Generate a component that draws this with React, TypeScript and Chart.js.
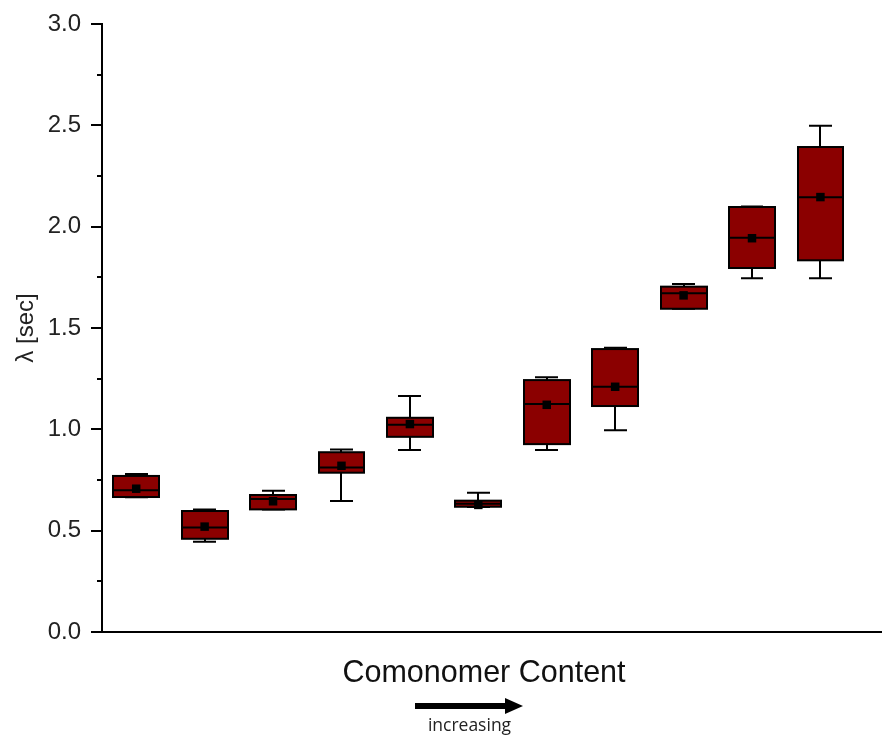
import React, { useEffect, useRef } from "react";
import { Chart, registerables } from "chart.js";

Chart.register(...registerables);

// Sample positions along the comonomer-content axis
const positions = [1, 2, 3, 4, 5, 6, 7, 8, 9, 10, 11];

// Box-plot statistics of the relaxation time λ [sec]
const whiskerLow = [0.665, 0.445, 0.605, 0.646, 0.898, 0.617, 0.898, 0.995, 1.595, 1.745, 1.745];
const q1 = [0.666, 0.46, 0.605, 0.786, 0.963, 0.618, 0.927, 1.115, 1.595, 1.796, 1.834];
const median = [0.7, 0.516, 0.656, 0.812, 1.023, 0.633, 1.125, 1.21, 1.671, 1.945, 2.145];
const mean = [0.707, 0.52, 0.645, 0.82, 1.026, 0.627, 1.121, 1.21, 1.661, 1.943, 2.146];
const q3 = [0.77, 0.597, 0.676, 0.887, 1.057, 0.648, 1.243, 1.396, 1.704, 2.097, 2.393];
const whiskerHigh = [0.78, 0.605, 0.697, 0.9, 1.164, 0.687, 1.257, 1.403, 1.717, 2.1, 2.498];

const yLabelEvery = 0.5;

const BOX_FILL = "#8b0000";
const INK = "#000000";
const BOX_HALF = 0.335; // half box width, in x units
const CAP_HALF = 0.168; // half whisker-cap width, in x units

const boxPlotPlugin = {
  id: "boxPlot",
  beforeDatasetsDraw(chart: any) {
    const { ctx, scales } = chart;
    const x = scales.x;
    const y = scales.y;
    ctx.save();
    ctx.lineWidth = 2;
    ctx.strokeStyle = INK;
    ctx.lineCap = "butt";
    positions.forEach((p, i) => {
      const cx = Math.round(x.getPixelForValue(p));
      const l = Math.round(x.getPixelForValue(p - BOX_HALF));
      const r = Math.round(x.getPixelForValue(p + BOX_HALF));
      const cl = Math.round(x.getPixelForValue(p - CAP_HALF));
      const cr = Math.round(x.getPixelForValue(p + CAP_HALF));
      const top = y.getPixelForValue(q3[i]);
      const bot = y.getPixelForValue(q1[i]);
      const wHi = y.getPixelForValue(whiskerHigh[i]);
      const wLo = y.getPixelForValue(whiskerLow[i]);
      const med = y.getPixelForValue(median[i]);

      // whiskers and caps
      ctx.beginPath();
      ctx.moveTo(cx, top);
      ctx.lineTo(cx, wHi);
      ctx.moveTo(cl, wHi);
      ctx.lineTo(cr, wHi);
      ctx.moveTo(cx, bot);
      ctx.lineTo(cx, wLo);
      ctx.moveTo(cl, wLo);
      ctx.lineTo(cr, wLo);
      ctx.stroke();

      // box
      ctx.fillStyle = BOX_FILL;
      ctx.fillRect(l, top, r - l, bot - top);
      ctx.strokeRect(l, top, r - l, bot - top);

      // median
      ctx.beginPath();
      ctx.moveTo(l, med);
      ctx.lineTo(r, med);
      ctx.stroke();
    });
    ctx.restore();
  },
  afterDraw(chart: any) {
    const { ctx, chartArea, scales } = chart;
    const y = scales.y;
    ctx.save();
    ctx.strokeStyle = INK;
    ctx.lineWidth = 2;

    // axis lines
    ctx.beginPath();
    ctx.moveTo(chartArea.left, chartArea.top - 1);
    ctx.lineTo(chartArea.left, chartArea.bottom);
    ctx.moveTo(chartArea.left, chartArea.bottom);
    ctx.lineTo(chartArea.right, chartArea.bottom);
    ctx.stroke();

    // major / minor tick marks on the y axis
    ctx.beginPath();
    y.ticks.forEach((t: any) => {
      const py = Math.round(y.getPixelForValue(t.value));
      const major = Math.abs(t.value / yLabelEvery - Math.round(t.value / yLabelEvery)) < 1e-6;
      const len = major ? 11 : 5;
      ctx.moveTo(chartArea.left - len, py);
      ctx.lineTo(chartArea.left, py);
    });
    ctx.stroke();

    // y-axis title
    ctx.fillStyle = "#222";
    ctx.font = '24px "Liberation Sans", Arial, sans-serif';
    ctx.textAlign = "center";
    ctx.textBaseline = "middle";
    ctx.save();
    ctx.translate(26, (chartArea.top + chartArea.bottom) / 2);
    ctx.rotate(-Math.PI / 2);
    ctx.fillText("λ [sec]", 0, 0);
    ctx.restore();

    // x-axis title
    ctx.fillStyle = "#111";
    ctx.font = '30.5px "Liberation Sans", Arial, sans-serif';
    ctx.textBaseline = "alphabetic";
    ctx.fillText("Comonomer Content", 484, 682);

    // direction arrow
    ctx.fillStyle = "#000";
    ctx.fillRect(415, 703, 91, 6);
    ctx.beginPath();
    ctx.moveTo(505, 698);
    ctx.lineTo(523, 706);
    ctx.lineTo(505, 714);
    ctx.closePath();
    ctx.fill();

    ctx.fillStyle = "#222";
    ctx.font = '17.5px "Open Sans", sans-serif';
    ctx.fillText("increasing", 469.5, 731);
    ctx.restore();
  },
};

export default function App() {
  const canvasRef = useRef<HTMLCanvasElement | null>(null);

  useEffect(() => {
    const canvas = canvasRef.current;
    if (!canvas) return;
    const chart = new Chart(canvas, {
      type: "scatter",
      data: {
        datasets: [
          {
            label: "mean",
            data: positions.map((p, i) => ({ x: p, y: mean[i] })),
            pointStyle: "rect",
            pointRadius: 6,
            backgroundColor: "#000",
            borderColor: "#000",
            borderWidth: 0,
          },
        ],
      },
      options: {
        responsive: false,
        animation: false,
        devicePixelRatio: 1,
        layout: { autoPadding: false, padding: { left: 0, right: 1, top: 24, bottom: 104 } },
        plugins: {
          legend: { display: false },
          tooltip: { enabled: false },
        },
        scales: {
          x: {
            type: "linear",
            min: 0.5,
            max: 11.9,
            display: false,
          },
          y: {
            type: "linear",
            min: 0,
            max: 3,
            afterFit: (s: any) => {
              s.width = 102;
              s.paddingTop = 0;
              s.paddingBottom = 0;
            },
            grid: { display: false, drawTicks: false },
            border: { display: false },
            ticks: {
              stepSize: 0.25,
              autoSkip: false,
              padding: 21,
              color: "#222",
              font: { family: '"Liberation Sans", Arial, sans-serif', size: 24 },
              callback: (v: any) => {
                const n = Number(v);
                return Math.abs(n / yLabelEvery - Math.round(n / yLabelEvery)) < 1e-6 ? n.toFixed(1) : "";
              },
            },
          },
        },
      },
      plugins: [boxPlotPlugin],
    });
    return () => chart.destroy();
  }, []);

  return (
    <div style={{ position: "fixed", left: 0, top: 0, width: 883, height: 736, background: "#fff" }}>
      <canvas ref={canvasRef} width={883} height={736} style={{ display: "block" }} />
    </div>
  );
}
